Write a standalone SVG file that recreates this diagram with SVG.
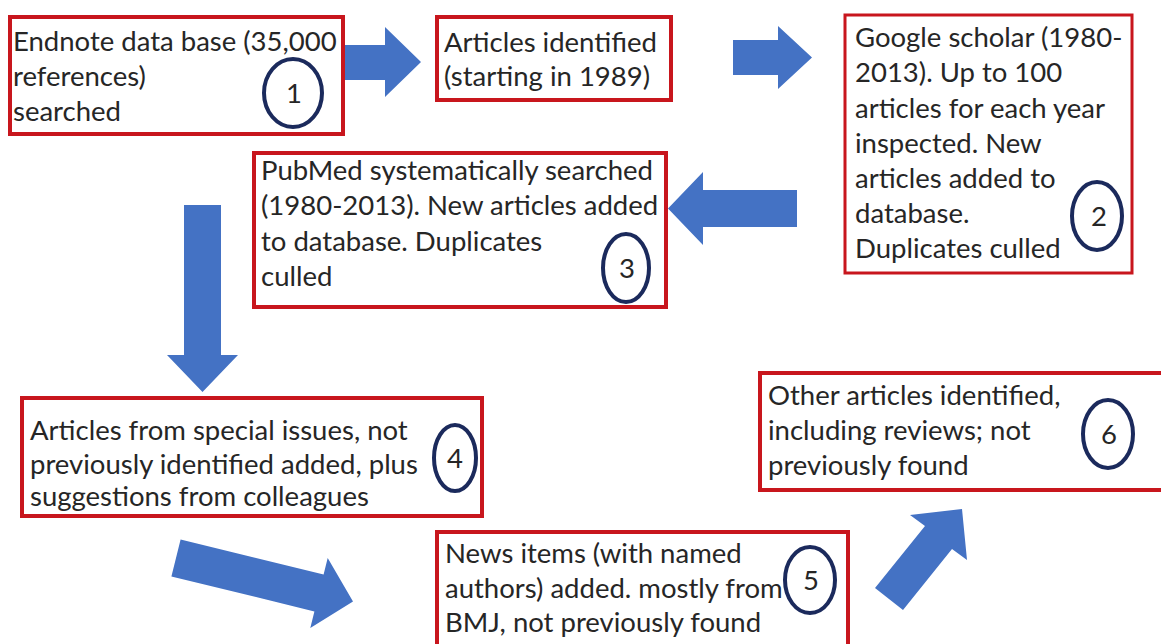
<svg xmlns="http://www.w3.org/2000/svg" width="1161" height="644" viewBox="0 0 1161 644">
<style>
.box{fill:#ffffff;stroke:#c8161d;stroke-width:4}
.t{font-family:Lato,"Noto Sans","Liberation Sans",sans-serif;font-size:27.5px;fill:#262626}
.num{font-family:Lato,"Noto Sans","Liberation Sans",sans-serif;font-size:27.5px;fill:#262626;text-anchor:middle}
.circ{fill:none;stroke:#1b2a5c;stroke-width:4}
.arr{fill:#4472c4;stroke:none}
</style>
<rect width="1161" height="644" fill="#ffffff"/>
<g id="connectors">
<polygon class="arr" points="343,45 385,45 385,27 421,62 385,97 385,80 343,80"/>
<polygon class="arr" points="733,40 778,40 778,26 812,57.5 778,89 778,75 733,75"/>
<polygon class="arr" points="797,190 703,190 703,172 668,208.5 703,245 703,227 797,227"/>
<polygon class="arr" points="184,205 221,205 221,355 238,355 202.5,392 167,355 184,355"/>
<polygon class="arr" points="180.6,539.6 323.6,574.6 327.7,558.1 353,601.4 310.3,627.9 314.4,611.4 171.4,576.4"/>
<polygon class="arr" points="875,588 925,526 910,515 962,509 967,560 952,549 903,610"/>
</g>
<g id="node1">
<rect class="box" x="10" y="17" width="333" height="117"/>
<text class="t" x="13" y="51">Endnote data base (35,000</text>
<text class="t" x="13" y="86">references)</text>
<text class="t" x="13" y="121">searched</text>
<ellipse class="circ" cx="293" cy="93" rx="29" ry="34"/>
<text class="num" x="294" y="103">1</text>
</g>
<g id="node2">
<rect class="box" x="437" y="17" width="234" height="83"/>
<text class="t" x="444" y="52">Articles identified</text>
<text class="t" x="444" y="86">(starting in 1989)</text>
</g>
<g id="node3">
<rect class="box" x="845" y="15" width="287" height="258" style="stroke-width:3"/>
<text class="t" x="855" y="47">Google scholar (1980-</text>
<text class="t" x="855" y="82">2013). Up to 100</text>
<text class="t" x="855" y="118">articles for each year</text>
<text class="t" x="855" y="153">inspected. New</text>
<text class="t" x="855" y="188">articles added to</text>
<text class="t" x="855" y="223">database.</text>
<text class="t" x="855" y="258">Duplicates culled</text>
<ellipse class="circ" cx="1097" cy="216" rx="25" ry="34"/>
<text class="num" x="1099" y="226">2</text>
</g>
<g id="node4">
<rect class="box" x="254" y="153" width="412" height="154"/>
<text class="t" x="261" y="180">PubMed systematically searched</text>
<text class="t" x="261" y="215">(1980-2013). New articles added</text>
<text class="t" x="261" y="251">to database. Duplicates</text>
<text class="t" x="261" y="286">culled</text>
<ellipse class="circ" cx="626" cy="268" rx="23" ry="34"/>
<text class="num" x="627" y="278">3</text>
</g>
<g id="node5">
<rect class="box" x="22" y="398" width="460" height="118"/>
<text class="t" x="30" y="440">Articles from special issues, not</text>
<text class="t" x="30" y="474">previously identified added, plus</text>
<text class="t" x="30" y="506">suggestions from colleagues</text>
<ellipse class="circ" cx="455" cy="458" rx="21" ry="33"/>
<text class="num" x="455" y="468">4</text>
</g>
<g id="node6">
<rect class="box" x="437" y="532" width="411" height="116"/>
<text class="t" x="445" y="563">News items (with named</text>
<text class="t" x="445" y="598">authors) added. mostly from</text>
<text class="t" x="445" y="632">BMJ, not previously found</text>
<ellipse class="circ" cx="810" cy="580" rx="25" ry="33"/>
<text class="num" x="811" y="590">5</text>
</g>
<g id="node7">
<rect class="box" x="760" y="373" width="406" height="117"/>
<text class="t" x="768" y="405">Other articles identified,</text>
<text class="t" x="768" y="440">including reviews; not</text>
<text class="t" x="768" y="475">previously found</text>
<ellipse class="circ" cx="1108" cy="434" rx="25" ry="34"/>
<text class="num" x="1109" y="444">6</text>
</g>
</svg>
